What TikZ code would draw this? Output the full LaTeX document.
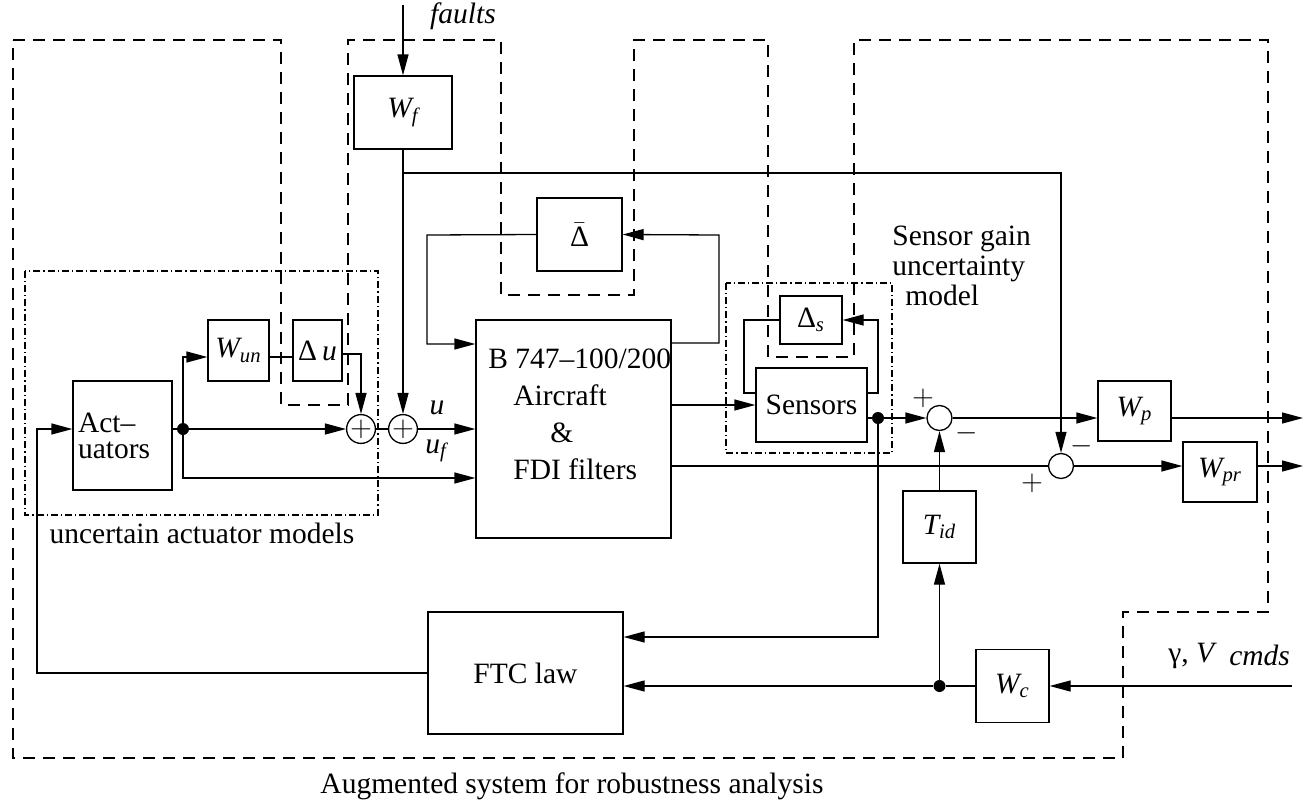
\documentclass[tikz,border=0pt]{standalone}
\usepackage{amsmath}
\usepackage{fontspec}
\setmainfont{Liberation Serif}
\usetikzlibrary{arrows.meta}

% one unit = one pixel of the 1314x804 sheet, y grows downwards
\tikzset{
  blk/.style={draw, line width=0.65pt, inner sep=0pt},
  sumc/.style={draw, circle, line width=0.65pt, minimum size=12.5pt, inner sep=0pt},
  jdot/.style={circle, fill, inner sep=0pt, minimum size=6pt},
  lbl/.style={inner sep=0pt},
  wire/.style={line width=0.65pt},
  sig/.style={line width=0.65pt, -{Triangle[length=10.5pt,width=5.5pt]}},
  augbox/.style={line width=0.65pt, dash pattern=on 6pt off 4pt},
  uncbox/.style={line width=0.65pt, dash pattern=on 3.5pt off 1.5pt on 0.6pt off 1.5pt},
}

\begin{document}
\begin{tikzpicture}[x=0.5pt, y=-0.5pt, font=\fontsize{14.75}{17.7}\selectfont]
  \useasboundingbox (0,0) rectangle (1314,804);

  % augmented system and uncertainty boxes
  \draw[augbox] (13,40) -- (281,40) -- (281,405) -- (348,405) -- (348,40)
    -- (501,40) -- (501,295) -- (634,295) -- (634,40) -- (768,40) -- (768,357)
    -- (854,357) -- (854,40) -- (1268,40) -- (1268,612) -- (1123,612)
    -- (1123,758) -- (13,758) -- cycle;
  \draw[uncbox] (25,271) rectangle (378,515);
  \draw[uncbox] (726,283) rectangle (892,453);

  % blocks
  \node[blk, minimum width=49.5pt, minimum height=54.5pt, text width=44.5pt,
        inner xsep=2.5pt, align=left, font=\fontsize{14.75}{13}\selectfont]
        (act) at (122.5,435.5) {Act--\\uators};
  \node[blk, minimum width=30.5pt, minimum height=30.5pt] (wun) at (238.5,350.5) {$\textit{W}_{\textit{un}}$};
  \node[blk, minimum width=24.5pt, minimum height=30.5pt] (du) at (317.5,350.5) {Δ\,\textit{u}};
  \node[blk, minimum width=49pt, minimum height=36.5pt] (wf) at (403,112.5) {$\textit{W}_{\textit{f}}$};
  \node[blk, minimum width=42.5pt, minimum height=36.5pt] (dbar) at (579.5,234.5) {$\bar{\mbox{Δ}}$};
  \node[blk, minimum width=97.5pt, minimum height=109pt] (ac) at (573.5,429) {};
  \node[lbl, anchor=north west, align=left, font=\fontsize{14.75}{18.5}\selectfont]
        (actext) at (488,348) {B 747--100/200\\\hspace{12.5pt}Aircraft\\\hspace{31pt}\&\\\hspace{12.5pt}FDI filters};
  \node[blk, minimum width=31pt, minimum height=24pt] (ds) at (811,320) {Δ\textsubscript{\textit{s}}};
  \node[blk, minimum width=55.5pt, minimum height=37pt] (sens) at (811.5,405) {Sensors};
  \node[blk, minimum width=36.5pt, minimum height=30pt] (wp) at (1134.5,411) {$\textit{W}_{\textit{p}}$};
  \node[blk, minimum width=37pt, minimum height=30pt] (wpr) at (1220,472) {$\textit{W}_{\textit{pr}}$};
  \node[blk, minimum width=36.5pt, minimum height=36pt] (tid) at (939.5,527) {$\textit{T}_{\textit{id}}$};
  \node[blk, minimum width=97.5pt, minimum height=61pt] (ftc) at (525.5,673) {FTC law};
  \node[blk, minimum width=36.5pt, minimum height=36.5pt] (wc) at (1012.5,686) {$\textit{W}_{\textit{c}}$};

  % summing junctions and branch points
  \node[sumc] (s1) at (361,429) {$+$};
  \node[sumc] (s2) at (403,429) {$+$};
  \node[sumc] (s3) at (939.5,418) {};
  \node[sumc] (s4) at (1061,466) {};
  \node[jdot] (dact) at (183,429) {};
  \node[jdot] (dsen) at (878,418) {};
  \node[jdot] (dcmd) at (939.5,686) {};

  \coordinate (fin) at (403,5);
  \coordinate (br) at (403,173);
  \coordinate (dl) at (427,235);
  \coordinate (dr) at (719,235);
  \coordinate (sl) at (744,320);
  \coordinate (sr) at (878,320);
  \coordinate (fb) at (37,673);
  \coordinate (outp) at (1303,418);
  \coordinate (outpr) at (1303,466);
  \coordinate (cmdin) at (1292,686);

  % actuator side
  \draw[sig] (ftc.west) -- (fb) |- (act.west |- s1);
  \draw[wire] (act.east |- s1) -- (dact);
  \draw[sig] (dact) -- (s1);
  \draw[sig] (dact) |- ([yshift=-3.25pt]wun.west);
  \draw[wire] ([yshift=-3.25pt]wun.east) -- ([yshift=-3.25pt]du.west);
  \draw[sig] ([yshift=-1.75pt]du.east) -| (s1);
  \draw[wire] (s1) -- (s2);
  \draw[sig] (s2) -- (s2 -| ac.west);
  \draw[sig] (dact) |- ([yshift=-24.5pt]ac.west);

  % faults
  \draw[sig] (fin) -- (wf);
  \draw[sig] (wf) -- (s2);
  \draw[sig] (br) -| (s4);

  % plant uncertainty loop
  \draw[sig] (dbar.west) -- (dl) |- ([yshift=42.5pt]ac.west);
  \draw[sig] ([yshift=43pt]ac.east) -| (dr) -- (dbar.east);

  % sensors
  \draw[sig] ([yshift=12pt]ac.east) -- (sens.west);
  \draw[sig] ([yshift=6pt]sens.east) -| (sr) -- (ds.east);
  \draw[wire] ([yshift=6pt]sens.west) -| (sl) -- (ds.west);
  \draw[wire] ([yshift=-6.5pt]sens.east) -- (dsen);
  \draw[sig] (dsen) -- (s3);
  \draw[sig] (dsen) |- ([yshift=18pt]ftc.east);

  % performance outputs
  \draw[wire] ([yshift=-18.5pt]ac.east) -- (s4);
  \draw[sig] (s3) -- (s3 -| wp.west);
  \draw[sig] (s3 -| wp.east) -- (outp);
  \draw[sig] (s4) -- (s4 -| wpr.west);
  \draw[sig] (s4 -| wpr.east) -- (outpr);

  % commands
  \draw[sig] (cmdin) -- (wc);
  \draw[wire] (wc) -- (dcmd);
  \draw[sig] (dcmd) -- (dcmd -| ftc.east);
  \draw[sig] (dcmd) -- (tid);
  \draw[sig] (tid) -- (s3);

  % labels
  \node[lbl] (lfaults) at (463,16) {\textit{faults}};
  \node[lbl, anchor=base] (lu) at (437,414) {\textit{u}};
  \node[lbl, anchor=base west] (luf) at (425,453) {$\textit{u}_{\textit{f}}$};
  \node[lbl] (lp3) at (923,398) {$+$};
  \node[lbl] (lm3) at (967,433) {$-$};
  \node[lbl] (lp4) at (1032,483) {$+$};
  \node[lbl] (lm4) at (1082,446) {$-$};
  \node[lbl, anchor=north west, align=left, font=\fontsize{14.75}{15}\selectfont]
        (lsens) at (892,226) {Sensor gain\\uncertainty\\\hspace{6.5pt}model};
  \node[lbl, anchor=base] (lact) at (202,543) {uncertain actuator models};
  \node[lbl, anchor=base west] (lcmd) at (1168,662) {γ, \textit{V}\, \raisebox{-1.5pt}{\textit{cmds}}};
  \node[lbl, anchor=base] (laug) at (572,793) {Augmented system for robustness analysis};
\end{tikzpicture}
\end{document}
